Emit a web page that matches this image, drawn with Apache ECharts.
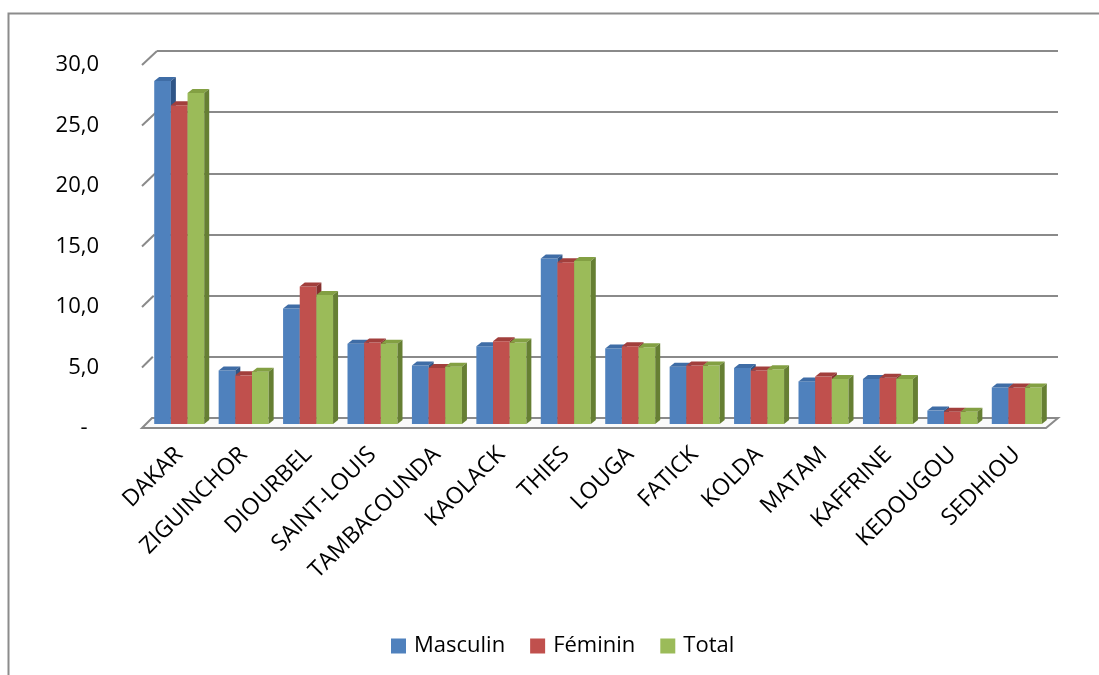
<!DOCTYPE html>
<html>
<head>
<meta charset="utf-8">
<script src="https://cdn.jsdelivr.net/npm/echarts@6/dist/echarts.min.js"></script>
<style>html,body{margin:0;padding:0;background:#fff;}#c{width:1099px;height:675px;}</style>
</head>
<body>
<div id="c"></div>
<script>
const categories = ['DAKAR','ZIGUINCHOR','DIOURBEL','SAINT-LOUIS','TAMBACOUNDA','KAOLACK','THIES','LOUGA','FATICK','KOLDA','MATAM','KAFFRINE','KEDOUGOU','SEDHIOU'];
const masculin = [28.2, 4.4, 9.5, 6.6, 4.8, 6.4, 13.6, 6.2, 4.7, 4.6, 3.5, 3.7, 1.1, 3.0];
const feminin  = [26.2, 4.0, 11.3, 6.7, 4.6, 6.8, 13.3, 6.4, 4.8, 4.4, 3.9, 3.8, 1.0, 3.0];
const total    = [27.2, 4.3, 10.6, 6.6, 4.7, 6.7, 13.4, 6.3, 4.8, 4.5, 3.7, 3.7, 1.0, 3.0];
const seriesNames = ['Masculin', 'Féminin', 'Total'];
const yTicks = [0, 5, 10, 15, 20, 25, 30];

const FONT = 'Open Sans';
const front = ['#4F81BD', '#C0504D', '#9BBB59'];
const topC  = ['#3F6DA6', '#A23F3C', '#83A043'];
const sideC = ['#2F5587', '#86302E', '#667F33'];
const GAP = 0.224, DX = 5, DY = 4;

function makeRender(si) {
  return function (params, api) {
    const cat = api.value(0), v = api.value(1);
    const p = api.coord([cat, v]);
    const p0 = api.coord([cat, 0]);
    const band = api.size([1, 0])[0];
    const bw = band * (1 - GAP) / 3;
    const x = p[0] - 1.5 * bw + si * bw;
    const y1 = p[1], y0 = p0[1];
    return {
      type: 'group',
      children: [
        { type: 'rect', shape: { x: x, y: y1, width: bw, height: y0 - y1 }, style: { fill: front[si] } },
        { type: 'polygon', shape: { points: [[x, y1], [x + DX, y1 - DY], [x + bw + DX, y1 - DY], [x + bw, y1]] }, style: { fill: topC[si] } },
        { type: 'polygon', shape: { points: [[x + bw, y1], [x + bw + DX, y1 - DY], [x + bw + DX, y0 - DY], [x + bw, y0]] }, style: { fill: sideC[si] } }
      ]
    };
  };
}

const dataSets = [masculin, feminin, total];
const chart = echarts.init(document.getElementById('c'));
chart.setOption({
  animation: false,
  backgroundColor: '#fff',
  grid: [
    { left: 147, right: 50, top: 59, bottom: 251 },   // bars
    { left: 157, right: 41, top: 51, bottom: 257 },   // back wall
    { left: 142, right: 52, top: 65, bottom: 247 }    // front labels
  ],
  xAxis: [
    { type: 'category', gridIndex: 0, data: categories, axisLine: { show: false }, axisTick: { show: false },
      axisLabel: { rotate: 45, interval: 0, margin: 27, fontSize: 23, fontFamily: FONT, color: '#000' } },
    { type: 'category', gridIndex: 1, data: categories, show: false },
    { type: 'category', gridIndex: 2, data: categories, show: false }
  ],
  yAxis: [
    { type: 'value', gridIndex: 0, min: 0, max: 30, interval: 5, show: false },
    { type: 'value', gridIndex: 1, min: 0, max: 30, interval: 5, axisLine: { show: false }, axisTick: { show: false },
      axisLabel: { show: false }, splitLine: { show: true, lineStyle: { color: '#8A8A8A', width: 2 } } },
    { type: 'value', gridIndex: 2, min: 0, max: 30, interval: 5, axisLine: { show: false }, axisTick: { show: false },
      splitLine: { show: false },
      axisLabel: { margin: 43, fontSize: 22, fontFamily: FONT, color: '#000',
        formatter: v => v === 0 ? '-  ' : v.toFixed(1).replace('.', ',') } }
  ],
  legend: {
    left: 386, top: 630, icon: 'rect', itemWidth: 15, itemHeight: 15, itemGap: 25,
    textStyle: { fontSize: 22, fontFamily: FONT, color: '#000', padding: [0, 0, 0, 3] },
    data: seriesNames
  },
  series: seriesNames.map((n, si) => ({
    type: 'custom', name: n, xAxisIndex: 0, yAxisIndex: 0, z: 5,
    itemStyle: { color: front[si] },
    encode: { x: 0, y: 1 },
    renderItem: makeRender(si),
    data: dataSets[si].map((v, i) => [i, v])
  }))
});

// decoration: outer border, floor and left-wall diagonals from axis scales
const yb = v => chart.convertToPixel({ yAxisIndex: 1 }, v);
const yf = v => chart.convertToPixel({ yAxisIndex: 2 }, v);
const g = [];
g.push({ type: 'rect', shape: { x: 8.5, y: 13.5, width: 1200, height: 800 }, style: { fill: 'none', stroke: '#8C8C8C', lineWidth: 2 }, z: 0 });
const f0 = yf(0), b0 = yb(0);
g.push({ type: 'polygon', shape: { points: [[142, f0], [1046, f0], [1058, b0], [152, b0]] },
  style: { fill: '#FAFAFA', stroke: '#8A8A8A', lineWidth: 2 }, z: 1 });
yTicks.forEach(v => {
  if (v === 0) return;
  g.push({ type: 'line', shape: { x1: 142, y1: yf(v), x2: 152 + 5 * v / 30, y2: yb(v) },
    style: { stroke: '#8A8A8A', lineWidth: 2 }, z: 1 });
});
chart.setOption({ graphic: g });
</script>
</body>
</html>
